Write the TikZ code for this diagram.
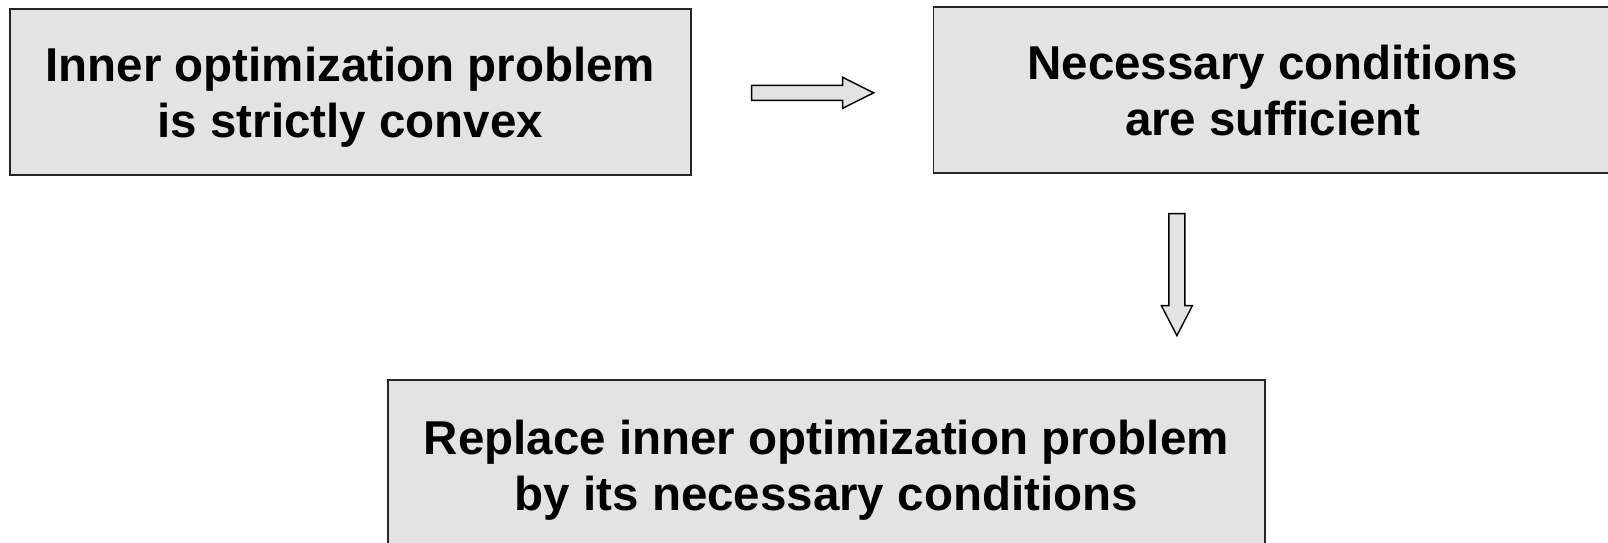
\documentclass[tikz,border=0pt]{standalone}
\usepackage{fontspec}
\setmainfont{Liberation Sans}
\usetikzlibrary{positioning, calc}
\definecolor{boxgray}{RGB}{227,227,227}
\tikzset{
  flow/.style={
	x=1pt, y=1pt, % one unit is one pixel of the layout
	condbox/.style={draw=black!85, line width=1.6pt, fill=boxgray, align=center, minimum height=166pt, inner sep=0pt, text depth=0pt, font=\fontsize{47.5}{56}\selectfont\bfseries}, % the three statement boxes
	blockarrow/.style={draw=black, line width=1.4pt, fill=boxgray, line join=miter}, % hollow block arrows
  }
}

\begin{document}
\begin{tikzpicture}[flow]
	  \useasboundingbox (0,0) rectangle (1608,-543);

	  \node[condbox, minimum width=681pt, anchor=north west] (convex) at (9,-8) {Inner optimization problem\\is strictly convex};
	  \node[condbox, minimum width=679pt, right=241pt of convex, yshift=2pt] (suff) {Necessary conditions\\are sufficient};
	  \node[condbox, minimum width=877pt, minimum height=170pt, anchor=north west] (replace) at (387,-379) {Replace inner optimization problem\\by its necessary conditions};

	  % end points of the arrows
	  \coordinate (convexout) at ($(convex.east)+(60,-1)$);
	  \coordinate (suffin) at ($(suff.west)+(-59,-3)$);
	  \coordinate (suffout) at ($(suff.south)+(-96,-40)$);
	  \coordinate (replacein) at ($(suffout)+(0,-122)$);

	  \draw[blockarrow] (convexout) ++(0,7.5) -- ++(91,0) -- ++(0,8) -- (suffin) -- ++(-31,-15.5) -- ++(0,8) -- ++(-91,0) -- cycle;
	  \draw[blockarrow] (suffout) ++(-8,0) -- ++(0,-92) -- ++(-7.5,0) -- (replacein) -- ++(15.5,30) -- ++(-7.5,0) -- ++(0,92) -- cycle;
	  \end{tikzpicture}
\end{document}
